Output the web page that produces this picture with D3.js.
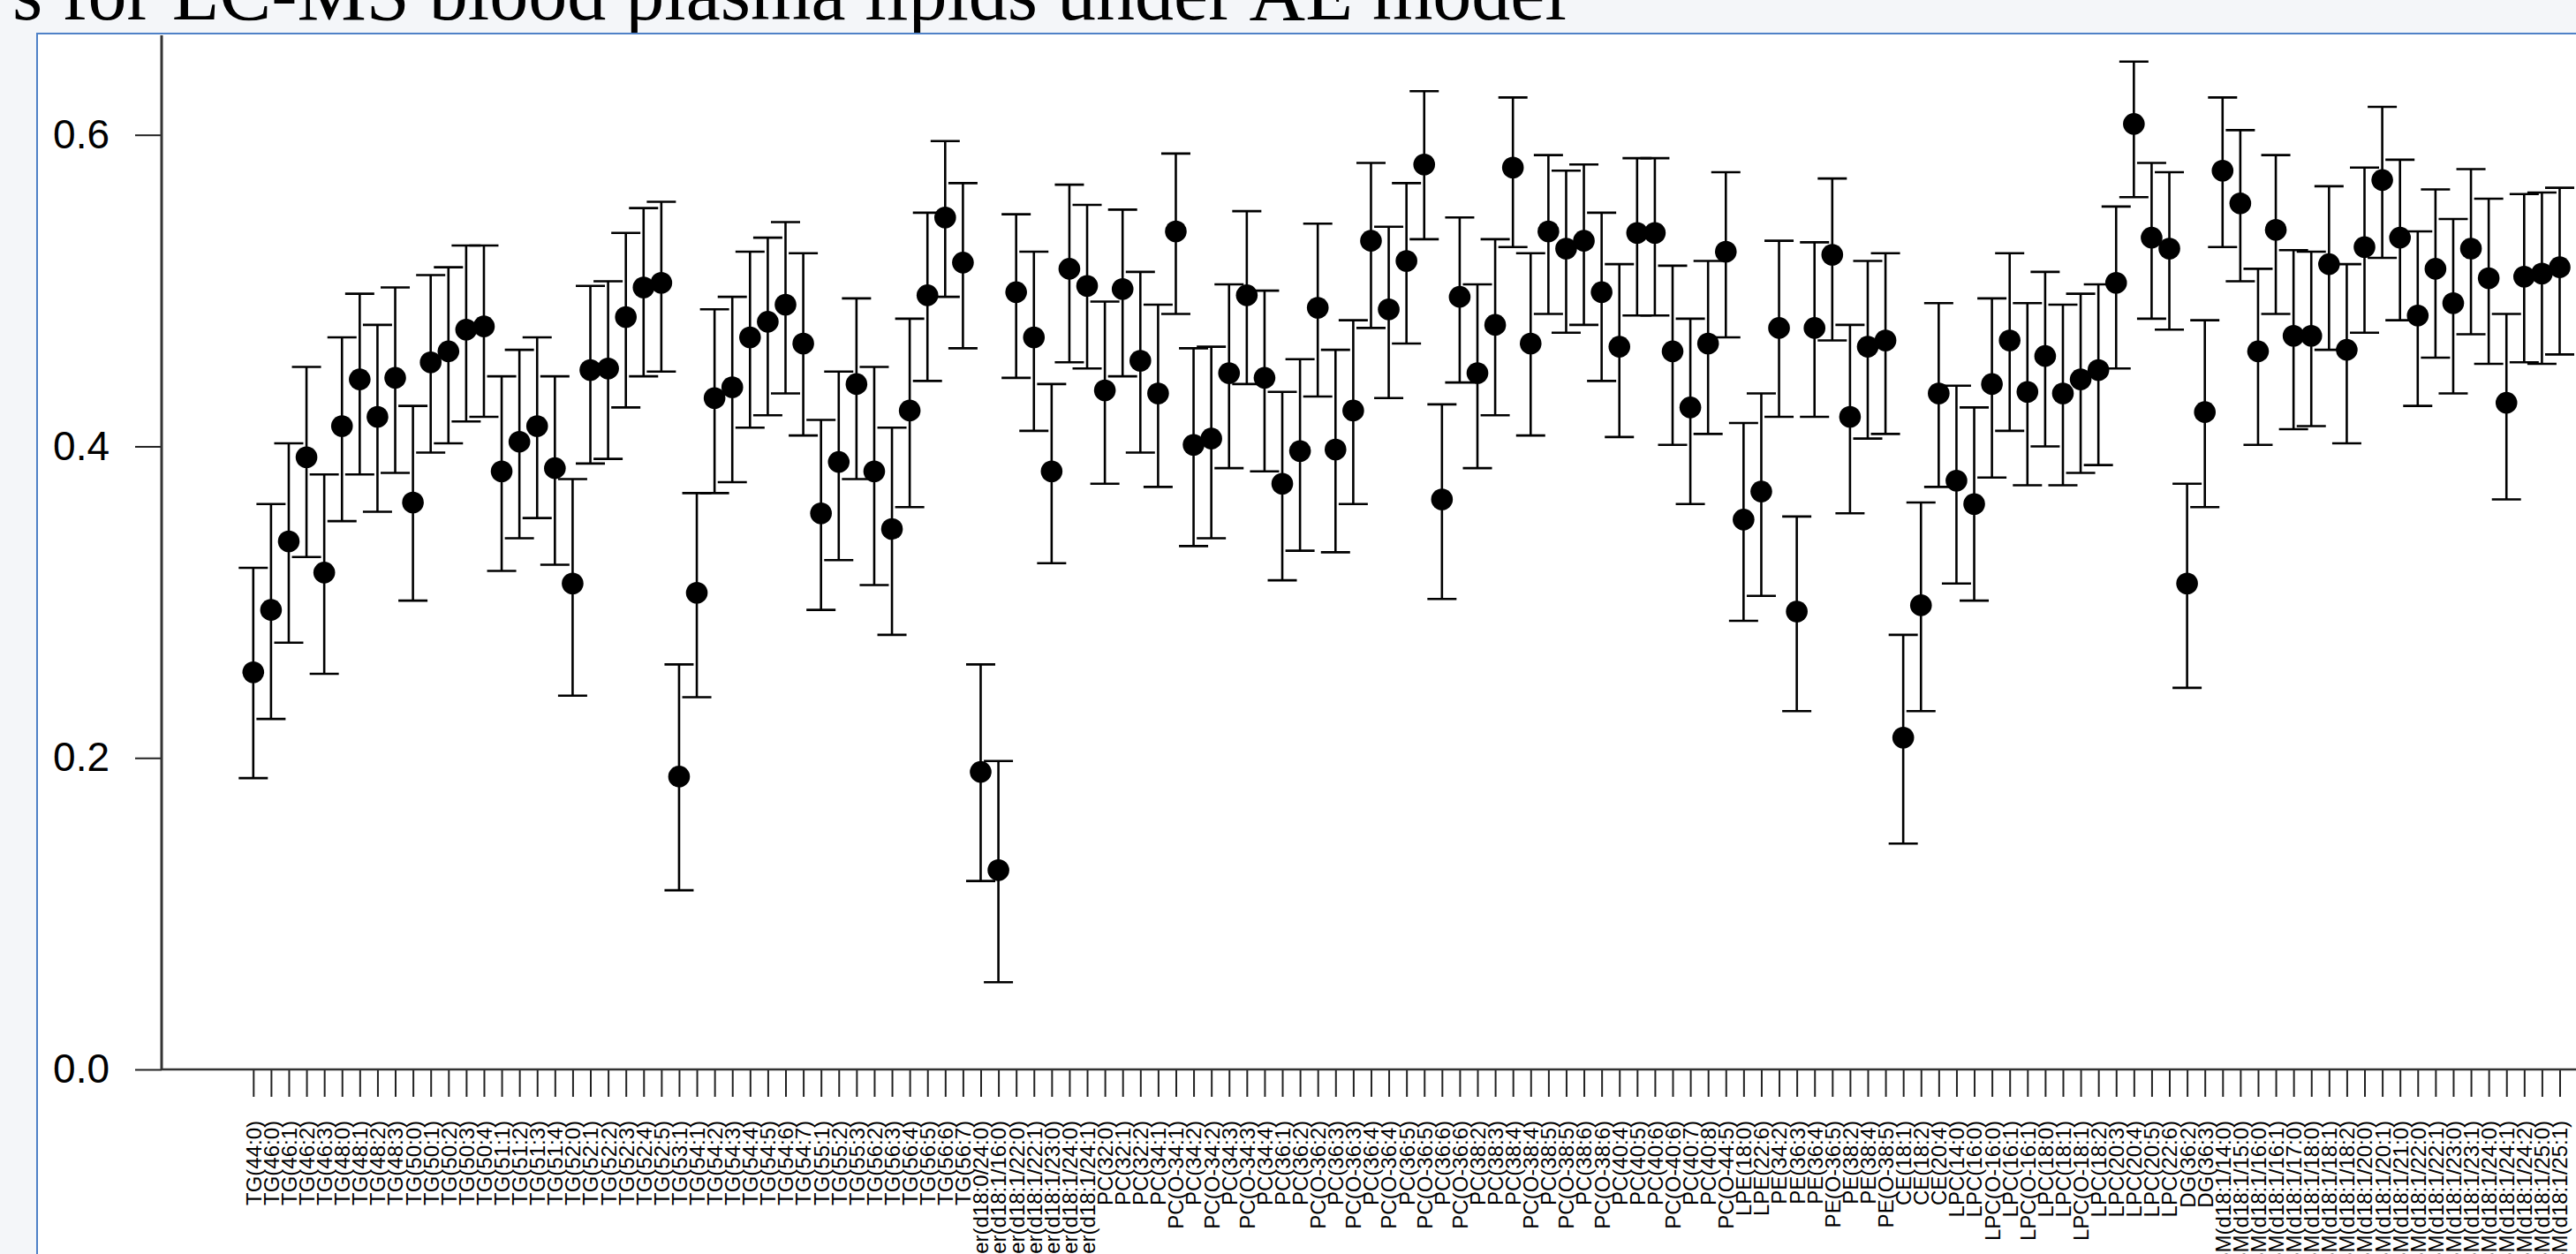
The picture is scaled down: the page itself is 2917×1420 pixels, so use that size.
<!DOCTYPE html>
<html>
<head>
<meta charset="utf-8">
<script src="https://cdn.jsdelivr.net/npm/d3@7"></script>
<style>
  html, body { margin: 0; padding: 0; background: #f4f6f9; overflow: hidden; }
  svg { display: block; }
</style>
</head>
<body>
<svg id="chart" width="2917" height="1420"></svg>
<script>
const titleText = "s for LC-MS blood plasma lipids under AE model";

const categories = [
  "TG(44:0)","TG(46:0)","TG(46:1)","TG(46:2)","TG(46:3)","TG(48:0)","TG(48:1)","TG(48:2)","TG(48:3)",
  "TG(50:0)","TG(50:1)","TG(50:2)","TG(50:3)","TG(50:4)","TG(51:1)","TG(51:2)","TG(51:3)","TG(51:4)",
  "TG(52:0)","TG(52:1)","TG(52:2)","TG(52:3)","TG(52:4)","TG(52:5)","TG(53:1)",
  "TG(54:1)","TG(54:2)","TG(54:3)","TG(54:4)","TG(54:5)","TG(54:6)","TG(54:7)",
  "TG(55:1)","TG(55:2)","TG(55:3)","TG(56:2)","TG(56:3)","TG(56:4)","TG(56:5)","TG(56:6)","TG(56:7)",
  "Cer(d18:0/24:0)","Cer(d18:1/16:0)","Cer(d18:1/22:0)","Cer(d18:1/22:1)","Cer(d18:1/23:0)","Cer(d18:1/24:0)","Cer(d18:1/24:1)",
  "PC(32:0)","PC(32:1)","PC(32:2)","PC(34:1)","PC(O-34:1)","PC(34:2)","PC(O-34:2)","PC(34:3)","PC(O-34:3)","PC(34:4)",
  "PC(36:1)","PC(36:2)","PC(O-36:2)","PC(36:3)","PC(O-36:3)","PC(36:4)","PC(O-36:4)","PC(36:5)","PC(O-36:5)","PC(36:6)","PC(O-36:6)",
  "PC(38:2)","PC(38:3)","PC(38:4)","PC(O-38:4)","PC(38:5)","PC(O-38:5)","PC(38:6)","PC(O-38:6)",
  "PC(40:4)","PC(40:5)","PC(40:6)","PC(O-40:6)","PC(40:7)","PC(40:8)","PC(O-44:5)",
  "LPE(18:0)","LPE(22:6)","PE(34:2)","PE(36:3)","PE(36:4)","PE(O-36:5)","PE(38:2)","PE(38:4)","PE(O-38:5)",
  "CE(18:1)","CE(18:2)","CE(20:4)","LPC(14:0)","LPC(16:0)","LPC(O-16:0)","LPC(16:1)","LPC(O-16:1)","LPC(18:0)",
  "LPC(18:1)","LPC(O-18:1)","LPC(18:2)","LPC(20:3)","LPC(20:4)","LPC(20:5)","LPC(22:6)","DG(36:2)","DG(36:3)",
  "SM(d18:1/14:0)","SM(d18:1/15:0)","SM(d18:1/16:0)","SM(d18:1/16:1)","SM(d18:1/17:0)","SM(d18:1/18:0)","SM(d18:1/18:1)",
  "SM(d18:1/18:2)","SM(d18:1/20:0)","SM(d18:1/20:1)","SM(d18:1/21:0)","SM(d18:1/22:0)","SM(d18:1/22:1)","SM(d18:1/23:0)",
  "SM(d18:1/23:1)","SM(d18:1/24:0)","SM(d18:1/24:1)","SM(d18:1/24:2)","SM(d18:1/25:0)","SM(d18:1/25:1)"
];

const meanVals = [
  0.255,0.295,0.339,0.393,0.319,0.413,0.443,0.419,0.444,0.364,
  0.454,0.461,0.475,0.477,0.384,0.403,0.413,0.386,0.312,0.449,
  0.450,0.483,0.502,0.505,0.188,0.306,0.431,0.438,0.470,0.480,
  0.491,0.466,0.357,0.390,0.440,0.384,0.347,0.423,0.497,0.547,
  0.518,0.191,0.128,0.499,0.470,0.384,0.514,0.503,0.436,0.501,
  0.455,0.434,0.538,0.401,0.405,0.447,0.497,0.444,0.376,0.397,
  0.489,0.398,0.423,0.532,0.488,0.519,0.581,0.366,0.496,0.447,
  0.478,0.579,0.466,0.538,0.527,0.532,0.499,0.464,0.537,0.537,
  0.461,0.425,0.466,0.525,0.353,0.371,0.476,0.294,0.476,0.523,
  0.419,0.464,0.468,0.213,0.298,0.434,0.378,0.363,0.440,0.468,
  0.435,0.458,0.434,0.443,0.449,0.505,0.607,0.534,0.527,0.312,
  0.422,0.577,0.556,0.461,0.539,0.471,0.471,0.517,0.462,0.528,
  0.571,0.534,0.484,0.514,0.492,0.527,0.508,0.428,0.509,0.511,
  0.515
];

const lowerVals = [
  0.187,0.225,0.274,0.329,0.254,0.352,0.382,0.358,0.383,0.301,
  0.396,0.402,0.416,0.419,0.320,0.341,0.354,0.324,0.240,0.389,
  0.392,0.425,0.445,0.448,0.115,0.239,0.370,0.377,0.412,0.420,
  0.434,0.407,0.295,0.327,0.379,0.311,0.279,0.361,0.442,0.496,
  0.463,0.121,0.056,0.444,0.410,0.325,0.454,0.450,0.376,0.445,
  0.396,0.374,0.485,0.336,0.341,0.386,0.440,0.384,0.314,0.333,
  0.432,0.332,0.363,0.476,0.431,0.466,0.533,0.302,0.441,0.386,
  0.420,0.528,0.407,0.485,0.473,0.478,0.442,0.406,0.484,0.484,
  0.401,0.363,0.408,0.470,0.288,0.304,0.419,0.230,0.419,0.468,
  0.357,0.405,0.408,0.145,0.230,0.374,0.312,0.301,0.380,0.410,
  0.375,0.400,0.375,0.383,0.388,0.450,0.560,0.482,0.475,0.245,
  0.361,0.528,0.506,0.401,0.485,0.411,0.413,0.462,0.402,0.473,
  0.521,0.481,0.426,0.457,0.434,0.472,0.453,0.366,0.454,0.453,
  0.459
];

const upperVals = [
  0.322,0.363,0.402,0.451,0.382,0.470,0.498,0.478,0.502,0.426,
  0.510,0.515,0.529,0.529,0.445,0.462,0.470,0.445,0.379,0.503,
  0.506,0.537,0.553,0.557,0.260,0.370,0.488,0.496,0.525,0.534,
  0.544,0.524,0.417,0.448,0.495,0.451,0.412,0.482,0.550,0.596,
  0.569,0.260,0.198,0.549,0.525,0.440,0.568,0.555,0.493,0.552,
  0.512,0.491,0.588,0.463,0.464,0.504,0.551,0.500,0.435,0.456,
  0.543,0.462,0.481,0.582,0.541,0.569,0.628,0.427,0.547,0.504,
  0.533,0.624,0.524,0.587,0.577,0.581,0.550,0.517,0.585,0.585,
  0.516,0.482,0.519,0.576,0.415,0.434,0.532,0.355,0.531,0.572,
  0.478,0.519,0.524,0.279,0.364,0.492,0.439,0.425,0.495,0.524,
  0.492,0.512,0.491,0.498,0.504,0.554,0.647,0.582,0.576,0.376,
  0.481,0.624,0.603,0.514,0.587,0.526,0.525,0.567,0.517,0.579,
  0.618,0.584,0.538,0.565,0.546,0.578,0.559,0.485,0.562,0.563,
  0.566
];

const yTicks = [0.0, 0.2, 0.4, 0.6];

const W = 2917, H = 1420;
const svg = d3.select("#chart");

// page background
svg.append("rect").attr("x", 0).attr("y", 0).attr("width", W).attr("height", H).attr("fill", "#f4f6f9");

// title (only the lower part is visible in the reference)
svg.append("text")
  .attr("x", 14).attr("y", 22)
  .attr("font-family", "'Liberation Serif','Times New Roman',serif")
  .attr("font-size", 88)
  .attr("fill", "#000")
  .text(titleText);

// plot window
svg.append("rect")
  .attr("x", 42).attr("y", 38).attr("width", W + 10).attr("height", H + 10)
  .attr("fill", "#ffffff").attr("stroke", "#4f81c7").attr("stroke-width", 2);

const x0 = 286.8, step = 20.09;
const x = d3.scalePoint().domain(categories).range([x0, x0 + step * (categories.length - 1)]);
const y = d3.scaleLinear().domain([0, 0.6]).range([1211, 152.7]);

const axisX = 183;

// Y axis
const gy = svg.append("g").attr("transform", `translate(${axisX},0)`)
  .call(d3.axisLeft(y).tickValues(yTicks).tickFormat(d3.format(".1f")).tickSize(30).tickSizeOuter(0).tickPadding(29));
gy.select(".domain").remove();
gy.selectAll(".tick line").attr("stroke", "#222").attr("stroke-width", 2);
gy.selectAll(".tick text")
  .attr("font-family", "'Liberation Sans',Arial,sans-serif")
  .attr("font-size", 46).attr("fill", "#000");
svg.append("line").attr("x1", axisX).attr("x2", axisX).attr("y1", 40).attr("y2", y(0))
  .attr("stroke", "#333").attr("stroke-width", 3);

// X axis
const gx = svg.append("g").attr("transform", `translate(0,${y(0)})`)
  .call(d3.axisBottom(x).tickSize(31).tickSizeOuter(0));
gx.select(".domain").remove();
gx.selectAll(".tick line").attr("stroke", "#222").attr("stroke-width", 2);
gx.selectAll(".tick text")
  .attr("font-family", "'Liberation Sans',Arial,sans-serif")
  .attr("font-size", 24).attr("fill", "#000")
  .attr("text-anchor", "end")
  .attr("transform", "rotate(-90)")
  .attr("x", -58).attr("y", 0).attr("dy", "0.35em");
svg.append("line").attr("x1", axisX).attr("x2", W).attr("y1", y(0)).attr("y2", y(0))
  .attr("stroke", "#333").attr("stroke-width", 2.5);

// data
const data = categories.map((c, i) => ({ c, m: meanVals[i], lo: lowerVals[i], hi: upperVals[i] }));
const capW = 16.5;
const bars = svg.append("g").attr("stroke", "#000").attr("stroke-width", 2.6);
bars.selectAll(".v").data(data).join("line")
  .attr("x1", d => x(d.c)).attr("x2", d => x(d.c))
  .attr("y1", d => y(d.lo)).attr("y2", d => y(d.hi));
bars.selectAll(".ct").data(data).join("line")
  .attr("x1", d => x(d.c) - capW).attr("x2", d => x(d.c) + capW)
  .attr("y1", d => y(d.hi)).attr("y2", d => y(d.hi));
bars.selectAll(".cb").data(data).join("line")
  .attr("x1", d => x(d.c) - capW).attr("x2", d => x(d.c) + capW)
  .attr("y1", d => y(d.lo)).attr("y2", d => y(d.lo));

svg.append("g").selectAll("circle").data(data).join("circle")
  .attr("cx", d => x(d.c)).attr("cy", d => y(d.m)).attr("r", 12.3)
  .attr("fill", "#000");
</script>
</body>
</html>
